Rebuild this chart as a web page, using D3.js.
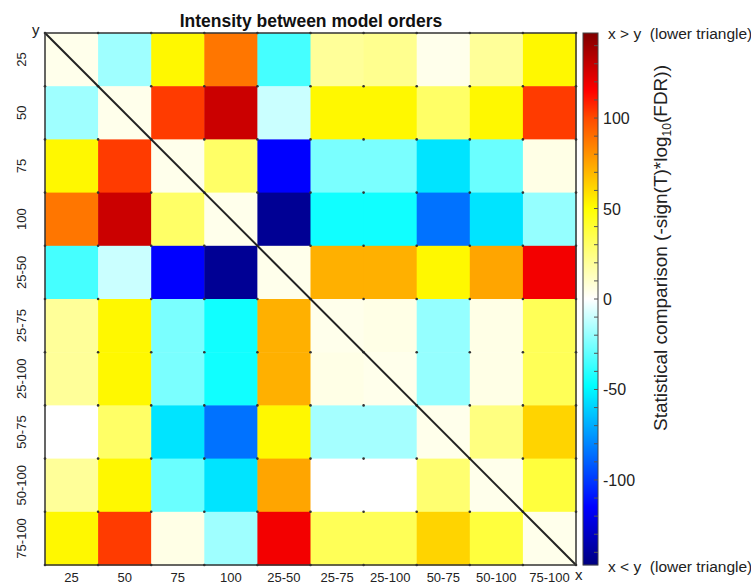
<html>
<head>
<script src="https://d3js.org/d3.v7.min.js"></script>
<style>
  body { margin: 0; background: #fff; }
  text { font-family: "Liberation Sans", Arial, sans-serif; }
</style>
</head>
<body>
<script>
// model orders, used for both axes
const categories = ["25", "50", "75", "100", "25-50", "25-75", "25-100", "50-75", "50-100", "75-100"];

// statistical comparison values, one row per y category
const values = [
  [  4, -18,  52,  88, -35,  20,  22,   4,  20,  52],
  [-18,   4, 103, 128, -10,  52,  52,  30,  52, 103],
  [ 52, 103,   4,  30,-115, -25, -25, -55, -28,   5],
  [ 88, 128,  30,   4,-142, -45, -45, -85, -55, -20],
  [-35, -10,-115,-142,   4,  72,  72,  52,  75, 118],
  [ 20,  52, -25, -45,  72,   4,   5, -20,   5,  33],
  [ 20,  52, -25, -45,  72,   5,   4, -20,   5,  33],
  [  0,  30, -55, -85,  52, -17, -17,   4,  25,  62],
  [ 20,  52, -28, -55,  75,   0,   0,  28,   4,  38],
  [ 52, 103,   5, -18, 118,  33,  33,  62,  38,   4]
];

// colour bar
const cbLimits = [-147, 147];
const cbTicks = [-100, -50, 0, 50, 100];
const cbMinorTicks = d3.range(-140, 141, 10);

const colorStops = [-147, -115, -48, 0, 50, 75, 100, 115, 147];
const colorRange = ["#000080", "#0000ff", "#00ffff", "#ffffff", "#ffff00", "#ffa500", "#ff4a00", "#ff0000", "#800000"];

const svg = d3.select("body").append("svg")
    .attr("width", 751)
    .attr("height", 586);

let x = d3.scaleBand().domain(categories).range([45, 576]);
let y = d3.scaleBand().domain(categories).range([33, 565]);
let color = d3.scaleLinear().domain(colorStops).range(colorRange).clamp(true);

// cells
values.forEach((row, i) => {
  row.forEach((v, j) => {
    svg.append("rect")
      .attr("x", x(categories[j]))
      .attr("y", y(categories[i]))
      .attr("width", x.bandwidth() + 0.5)
      .attr("height", y.bandwidth() + 0.5)
      .attr("fill", color(v));
  });
});

// dots at the cell corners
for (let i = 0; i <= categories.length; i++) {
  for (let j = 0; j <= categories.length; j++) {
    svg.append("circle")
      .attr("cx", 45 + j * x.step())
      .attr("cy", 33 + i * y.step())
      .attr("r", 1.3)
      .attr("fill", "#333");
  }
}

// diagonal
svg.append("line")
  .attr("x1", 45).attr("y1", 33)
  .attr("x2", 576).attr("y2", 565)
  .attr("stroke", "#222")
  .attr("stroke-width", 2);

// frame
svg.append("rect")
  .attr("x", 45).attr("y", 33)
  .attr("width", 531).attr("height", 532)
  .attr("fill", "none")
  .attr("stroke", "#333")
  .attr("stroke-width", 1.5);

// tick labels
categories.forEach(c => {
  svg.append("text")
    .attr("x", x(c) + x.bandwidth() / 2)
    .attr("y", 582)
    .attr("text-anchor", "middle")
    .attr("font-size", 13)
    .attr("fill", "#222")
    .text(c);

  let cy = y(c) + y.bandwidth() / 2;
  svg.append("text")
    .attr("transform", `translate(26,${cy}) rotate(-90)`)
    .attr("text-anchor", "middle")
    .attr("font-size", 13)
    .attr("fill", "#222")
    .text(c);
});

svg.append("text").attr("x", 32).attr("y", 35).attr("font-size", 15).attr("fill", "#222").text("y");
svg.append("text").attr("x", 575).attr("y", 580).attr("font-size", 15).attr("fill", "#222").text("x");

// title
svg.append("text")
  .attr("x", 311).attr("y", 27)
  .attr("text-anchor", "middle")
  .attr("font-size", 17.5)
  .attr("font-weight", "bold")
  .attr("fill", "#111")
  .text("Intensity between model orders");

// colour bar
let cb = d3.scaleLinear().domain(cbLimits).range([565, 33]);
let cbX = 583, cbW = 15;
d3.range(33, 565).forEach(py => {
  svg.append("rect")
    .attr("x", cbX).attr("y", py)
    .attr("width", cbW).attr("height", 1.2)
    .attr("fill", color(cb.invert(py + 0.5)));
});
svg.append("rect")
  .attr("x", cbX).attr("y", 33)
  .attr("width", cbW).attr("height", 532)
  .attr("fill", "none")
  .attr("stroke", "#444")
  .attr("stroke-width", 1);

cbMinorTicks.forEach(t => {
  svg.append("line")
    .attr("x1", cbX + cbW - 4).attr("x2", cbX + cbW)
    .attr("y1", cb(t)).attr("y2", cb(t))
    .attr("stroke", "#555").attr("stroke-width", 1);
});

cbTicks.forEach(t => {
  svg.append("text")
    .attr("x", 603).attr("y", cb(t) + 6)
    .attr("font-size", 16)
    .attr("fill", "#222")
    .text(t);
});

let lab = svg.append("text")
  .attr("transform", "translate(667,248) rotate(-90)")
  .attr("text-anchor", "middle")
  .attr("font-size", 19)
  .attr("fill", "#222");
lab.append("tspan").text("Statistical comparison (-sign(T)*log");
lab.append("tspan").attr("font-size", 12).attr("dy", 4).text("10");
lab.append("tspan").attr("dy", -4).text("(FDR))");

svg.append("text").attr("x", 608).attr("y", 39).attr("font-size", 15.5).attr("fill", "#222")
  .attr("xml:space", "preserve").text("x > y  (lower triangle)");
svg.append("text").attr("x", 608).attr("y", 572).attr("font-size", 15.5).attr("fill", "#222")
  .attr("xml:space", "preserve").text("x < y  (lower triangle)");
</script>
</body>
</html>
